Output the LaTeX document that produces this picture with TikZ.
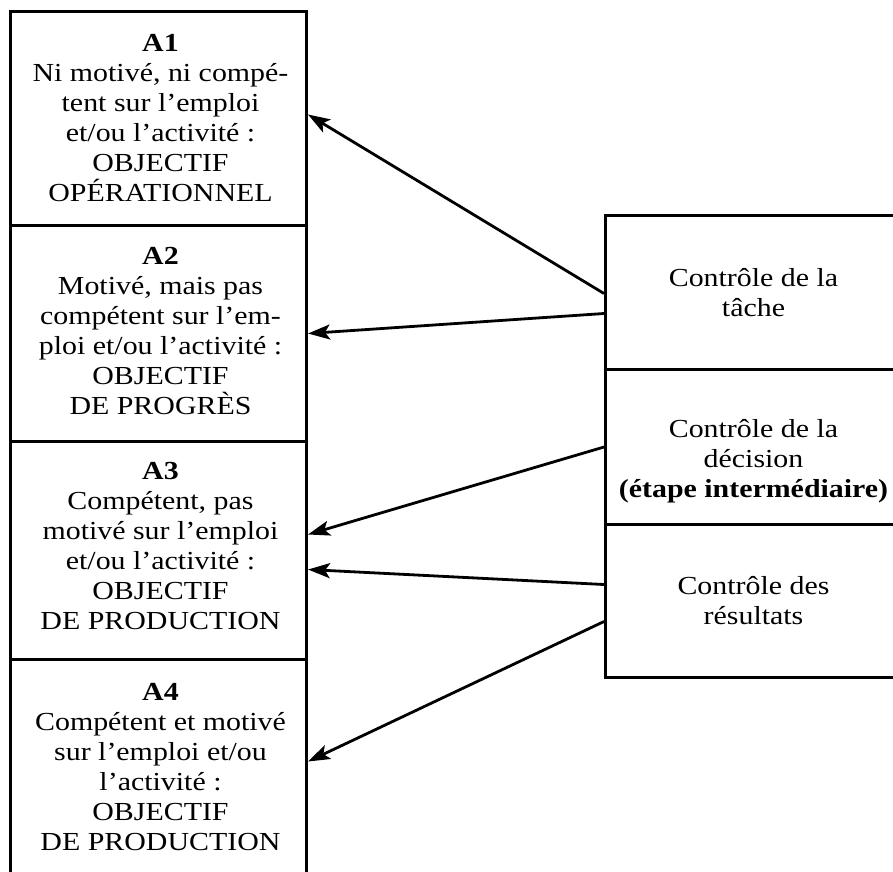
\documentclass[tikz,border=0pt]{standalone}
\usepackage{fontspec}
\setmainfont{Liberation Serif}[FakeStretch=1.15]
\usetikzlibrary{arrows.meta}
\begin{document}
\begin{tikzpicture}[x=1pt,y=-1pt,
  panel/.style={draw, line width=3pt, rectangle, inner sep=0pt,
                minimum width=296pt, anchor=north west},
  txt/.style={align=center, inner sep=0pt,
              font=\fontsize{26}{30}\selectfont},
  link/.style={-{Stealth[length=22pt,width=15pt,inset=5pt]}, line width=2.8pt}]
\useasboundingbox (0,0) rectangle (893,871);

% left column: the four categories
\node[panel, minimum height=214pt] (a1) at (9,10) {};
\node[panel, minimum height=216pt] (a2) at (9,224) {};
\node[panel, minimum height=218pt] (a3) at (9,440) {};
\node[panel, minimum height=215pt] (a4) at (9,658) {};

\node[txt] (a1t) at ([xshift=2pt]a1.center) {{\bfseries A1}\\Ni motivé, ni compé-\\tent sur l’emploi\\et/ou l’activité :\\OBJECTIF\\OPÉRATIONNEL};
\node[txt] (a2t) at ([xshift=2pt,yshift=2pt]a2.center) {{\bfseries A2}\\Motivé, mais pas\\compétent sur l’em-\\ploi et/ou l’activité :\\OBJECTIF\\DE PROGRÈS};
\node[txt] (a3t) at ([xshift=2pt,yshift=4pt]a3.center) {{\bfseries A3}\\Compétent, pas\\motivé sur l’emploi\\et/ou l’activité :\\OBJECTIF\\DE PRODUCTION};
\node[txt] (a4t) at ([xshift=2pt]a4.center) {{\bfseries A4}\\Compétent et motivé\\sur l’emploi et/ou\\l’activité :\\OBJECTIF\\DE PRODUCTION};

% right column: the three kinds of control
\node[panel, minimum height=154pt] (t1) at (604,214) {};
\node[panel, minimum height=155pt] (t2) at (604,368) {};
\node[panel, minimum height=153pt] (t3) at (604,523) {};

\node[txt] (t1t) at (t1.center) {Contrôle de la\\tâche};
\node[txt] (t2t) at ([yshift=-14pt]t2.center) {Contrôle de la\\décision\\{\bfseries (étape intermédiaire)}};
\node[txt] (t3t) at (t3.center) {Contrôle des\\résultats};

% connectors
\draw[link] ([yshift=-1pt]t1.west) -- ([yshift=4pt]a1.east);
\draw[link] ([yshift=-21pt]t1.west) -- (a2.east);
\draw[link] (t2.west) -- ([yshift=16pt]a3.east);
\draw[link] ([yshift=16.5pt]t3.west) -- ([yshift=-19pt]a3.east);
\draw[link] ([yshift=-20.5pt]t3.west) -- ([yshift=5.5pt]a4.east);
\end{tikzpicture}
\end{document}
